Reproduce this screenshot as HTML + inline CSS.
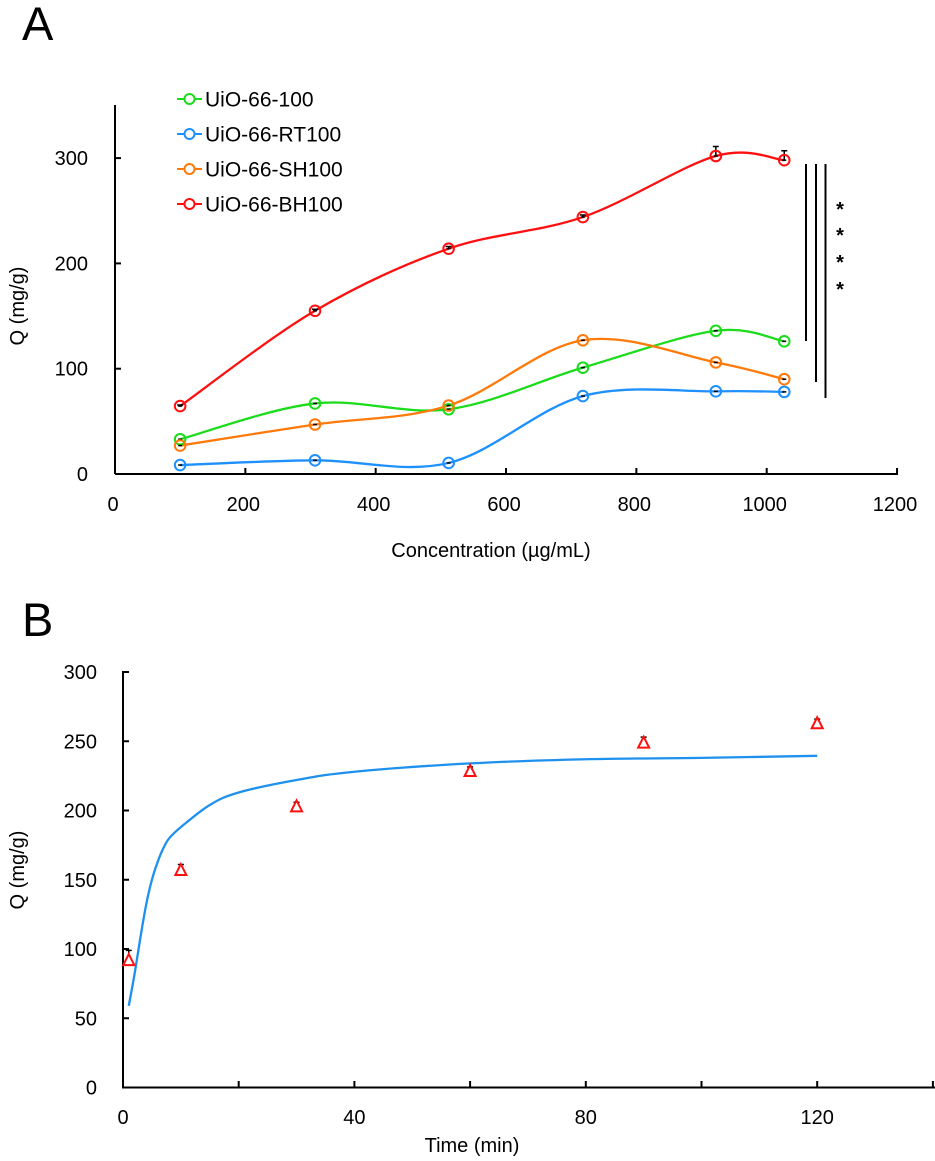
<!DOCTYPE html>
<html><head><meta charset="utf-8">
<style>
html,body{margin:0;padding:0;background:#fff;}
svg{display:block;font-family:"Liberation Sans",Arial,sans-serif;}
</style></head>
<body>
<svg id="fig" width="935" height="1161" viewBox="0 0 935 1161" xmlns="http://www.w3.org/2000/svg">
<text x="22" y="40" font-size="47">A</text>
<text x="22" y="636" font-size="47">B</text>
<g id="pa"></g>
<g id="pb"></g>
</svg>
<script>
// ---- Panel A data ----
const concA = [103, 310, 515, 721, 925, 1030];
const seriesNames = ["UiO-66-100", "UiO-66-RT100", "UiO-66-SH100", "UiO-66-BH100"];
const valsGreen = [33, 67, 61.5, 101, 136, 126];
const valsBlue = [8.5, 13, 10.5, 74, 78.5, 78];
const valsOrange = [27, 47, 65, 127, 106, 90];
const valsRed = [64.5, 155, 214, 244, 302, 298];
const errRed = [1, 1.5, 2, 2, 9, 9];
const xTicksA = [0, 200, 400, 600, 800, 1000, 1200];
const yTicksA = [0, 100, 200, 300];
// ---- Panel B data ----
const timeB = [1, 10, 30, 60, 90, 120];
const qB = [92, 157, 203, 228.5, 249, 263];
const errB = [7, 4, 3, 3, 4, 3];
const fitT = [1, 2, 3, 4, 5, 6, 7, 8, 10, 15, 20, 30, 40, 60, 80, 100, 120];
const fitQ = [59, 82, 108, 132, 150, 163, 173, 180, 188, 204, 213, 222, 228, 234, 237, 238, 239.5];
const xTicksB = [0, 40, 80, 120];
const xMinorB = [20, 60, 100, 140];
const yTicksB = [0, 50, 100, 150, 200, 250, 300];

const NS = "http://www.w3.org/2000/svg";
function mk(parent, tag, attrs, text){
  const e = document.createElementNS(NS, tag);
  for (const k in attrs) e.setAttribute(k, attrs[k]);
  if (text !== undefined) e.textContent = text;
  parent.appendChild(e);
  return e;
}
function smoothPath(pts){
  let d = "M" + pts[0][0] + "," + pts[0][1];
  for (let i = 0; i < pts.length - 1; i++){
    const p0 = pts[Math.max(0, i-1)], p1 = pts[i], p2 = pts[i+1], p3 = pts[Math.min(pts.length-1, i+2)];
    const c1x = p1[0] + (p2[0]-p0[0])/6, c1y = p1[1] + (p2[1]-p0[1])/6;
    const c2x = p2[0] - (p3[0]-p1[0])/6, c2y = p2[1] - (p3[1]-p1[1])/6;
    d += " C" + c1x + "," + c1y + " " + c2x + "," + c2y + " " + p2[0] + "," + p2[1];
  }
  return d;
}

// ---- Panel A ----
const pa = document.getElementById("pa");
const ax = v => 113 + v * 0.6517;
const ay = v => 474 - v * 1.053;
let e;
e = mk(pa, "line", {x1:115, y1:105, x2:115, y2:474, stroke:"#000", "stroke-width":2});
 
e = mk(pa, "line", {x1:115, y1:474, x2:898, y2:474, stroke:"#000", "stroke-width":2});
 
yTicksA.forEach(v => {
  e = mk(pa, "line", {x1:115, y1:ay(v), x2:121, y2:ay(v), stroke:"#000", "stroke-width":2});
   
  e = mk(pa, "text", {x:88, y:ay(v)+7, "font-size":20, "text-anchor":"end"}, String(v));
   
});
xTicksA.forEach(v => {
  if (v > 0) {
    e = mk(pa, "line", {x1:ax(v)+2, y1:474, x2:ax(v)+2, y2:468, stroke:"#000", "stroke-width":2});
     
  }
  e = mk(pa, "text", {x:ax(v), y:511, "font-size":20, "text-anchor":"middle"}, String(v));
   
});
e = mk(pa, "text", {x:491, y:557, "font-size":20, "text-anchor":"middle"}, "Concentration (µg/mL)");
 
e = mk(pa, "text", {x:0, y:0, "font-size":20, "text-anchor":"middle", transform:"translate(24,306) rotate(-90)"}, "Q (mg/g)");
 

const colors = ["#1adc1a", "#1e90ff", "#ff7a0a", "#ff1010"];
const allVals = [valsGreen, valsBlue, valsOrange, valsRed];
const sNames = ["green", "blue", "orange", "red"];
allVals.forEach((vals, si) => {
  const pts = concA.map((c, i) => [ax(c), ay(vals[i])]);
  e = mk(pa, "path", {d: smoothPath(pts), fill:"none", stroke:colors[si], "stroke-width":2.3});
   
});
allVals.forEach((vals, si) => {
  concA.forEach((c, i) => {
    if (si === 3) {
      const top = ay(vals[i] + errRed[i]);
      e = mk(pa, "path", {d:"M"+ax(c)+","+ay(vals[i])+" V"+top+" M"+(ax(c)-3)+","+top+" H"+(ax(c)+3), stroke:"#000", "stroke-width":1.5, fill:"none"});
       
    }
    e = mk(pa, "circle", {cx:ax(c), cy:ay(vals[i]), r:5.3, fill:"none", stroke:colors[si], "stroke-width":2});
     
    e = mk(pa, "line", {x1:ax(c)-2, y1:ay(vals[i]), x2:ax(c)+2, y2:ay(vals[i]), stroke:"#000", "stroke-width":1.5});
     
  });
});
// legend
seriesNames.forEach((n, i) => {
  const y = 99 + i * 35;
  const g = mk(pa, "g", {});
  
  
  mk(g, "line", {x1:177, y1:y, x2:202, y2:y, stroke:colors[i], "stroke-width":2});
  mk(g, "circle", {cx:189.5, cy:y, r:5, fill:"#fff", stroke:colors[i], "stroke-width":2});
  mk(g, "text", {x:205, y:y+7.5, "font-size":21}, n);
});
// significance
[[806, 341], [816, 382], [825.5, 398]].forEach(b => {
  e = mk(pa, "line", {x1:b[0], y1:164, x2:b[0], y2:b[1], stroke:"#000", "stroke-width":2});
   
});
[207, 233, 260, 287].forEach(y => {
  e = mk(pa, "text", {x:840, y:y+9, "font-size":20, "font-weight":"bold", "text-anchor":"middle"}, "*");
   
});

// ---- Panel B ----
const pb = document.getElementById("pb");
const bx = v => 123 + v * 5.785;
const by = v => 1087.5 - v * 1.385;
e = mk(pb, "line", {x1:123, y1:671, x2:123, y2:1088, stroke:"#000", "stroke-width":2});
 
e = mk(pb, "line", {x1:122, y1:1087.5, x2:935, y2:1087.5, stroke:"#000", "stroke-width":2});
 
yTicksB.forEach(v => {
  e = mk(pb, "line", {x1:123, y1:by(v), x2:129, y2:by(v), stroke:"#000", "stroke-width":2});
   
  e = mk(pb, "text", {x:97, y:by(v)+7, "font-size":20, "text-anchor":"end"}, String(v));
   
});
xTicksB.concat(xMinorB).forEach(v => {
  if (v > 0) {
    e = mk(pb, "line", {x1:bx(v), y1:1087.5, x2:bx(v), y2:1081, stroke:"#000", "stroke-width":2});
     
  }
});
xTicksB.forEach(v => {
  e = mk(pb, "text", {x:bx(v), y:1124, "font-size":20, "text-anchor":"middle"}, String(v));
   
});
e = mk(pb, "text", {x:472, y:1152, "font-size":20, "text-anchor":"middle"}, "Time (min)");
 
e = mk(pb, "text", {x:0, y:0, "font-size":20, "text-anchor":"middle", transform:"translate(24,870) rotate(-90)"}, "Q (mg/g)");
 
e = mk(pb, "path", {d: smoothPath(fitT.map((t, i) => [bx(t), by(fitQ[i])])), fill:"none", stroke:"#1e90ee", "stroke-width":2.3});
 
timeB.forEach((t, i) => {
  const x = bx(t), y = by(qB[i]), top = by(qB[i] + errB[i]);
  e = mk(pb, "path", {d:"M"+x+","+(y-5)+" V"+top+" M"+(x-3)+","+top+" H"+(x+3), stroke:"#000", "stroke-width":1.5, fill:"none"});
   
  e = mk(pb, "polygon", {points:(x)+","+(y-6)+" "+(x-5.5)+","+(y+5)+" "+(x+5.5)+","+(y+5), fill:"#fff", stroke:"#ff1010", "stroke-width":2});
   
});
</script>
</body></html>
